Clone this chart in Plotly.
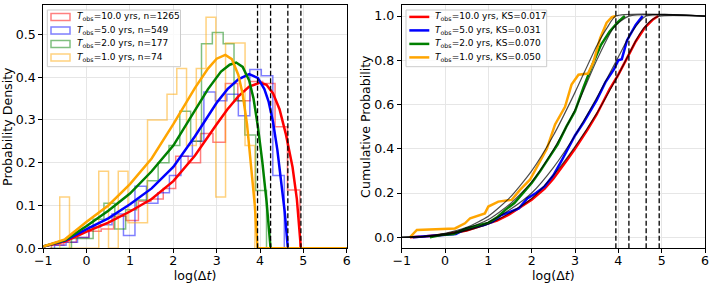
import numpy as np
import plotly.graph_objects as go

# ---------------- data ----------------
T_obs_yrs = [10.0, 5.0, 2.0, 1.0]
n_events = [1265, 549, 177, 74]
ks_values = ["0.017", "0.031", "0.070", "0.050"]
colors = ["red", "blue", "green", "orange"]

# histogram (density) : first edge, bin width, bar heights
hist_start = [-0.81, -0.74, -0.85, -0.62]
hist_binw = [0.2865, 0.265, 0.25, 0.225]
hist_red = [0.008, 0.014, 0.025, 0.040, 0.045, 0.075, 0.065, 0.110, 0.115, 0.140,
            0.215, 0.200, 0.268, 0.248, 0.385, 0.345, 0.390, 0.385, 0.284, 0.136]
hist_blue = [0.007, 0.014, 0.025, 0.050, 0.055, 0.080, 0.030, 0.145, 0.105, 0.130,
             0.170, 0.215, 0.250, 0.365, 0.345, 0.360, 0.310, 0.418, 0.403, 0.170]
hist_green = [0.0, 0.0, 0.023, 0.023, 0.068, 0.105, 0.045, 0.090, 0.113, 0.158,
              0.200, 0.240, 0.320, 0.250, 0.478, 0.504, 0.478, 0.345, 0.265, 0.135]
hist_orange = [0.12, 0.0, 0.0, 0.0, 0.18, 0.0, 0.18, 0.06, 0.06, 0.30,
               0.30, 0.36, 0.42, 0.24, 0.42, 0.54, 0.12, 0.48, 0.48, 0.24]

# fitted probability density curves
pdf_x_red = [-1, -0.5, 0, 0.5, 1, 1.5, 2, 2.5, 3, 3.25, 3.5, 3.75, 4.0, 4.15, 4.3, 4.45, 4.6, 4.75,
             4.85, 4.943, 6]
pdf_y_red = [0.004, 0.016, 0.039, 0.060, 0.086, 0.115, 0.157, 0.217, 0.290, 0.325, 0.355, 0.378, 0.387,
             0.382, 0.362, 0.325, 0.265, 0.190, 0.115, 0.0, 0.0]
pdf_x_blue = [-1, -0.5, 0, 0.5, 1, 1.5, 2, 2.5, 3, 3.25, 3.5, 3.75, 3.95, 4.1, 4.2, 4.3, 4.4, 4.5,
              4.57, 4.642, 6]
pdf_y_blue = [0.004, 0.018, 0.045, 0.070, 0.103, 0.140, 0.190, 0.262, 0.340, 0.372, 0.395, 0.407, 0.398,
              0.372, 0.342, 0.295, 0.230, 0.150, 0.085, 0.0, 0.0]
pdf_x_green = [-1, -0.5, 0, 0.5, 1, 1.5, 2, 2.5, 2.8, 3.1, 3.3, 3.45, 3.6, 3.75, 3.85, 3.95, 4.05,
               4.15, 4.244, 6]
pdf_y_green = [0.004, 0.019, 0.052, 0.088, 0.128, 0.180, 0.240, 0.322, 0.372, 0.413, 0.429, 0.434, 0.424,
               0.392, 0.350, 0.285, 0.205, 0.110, 0.0, 0.0]
pdf_x_orange = [-1, -0.5, 0, 0.5, 1, 1.5, 2, 2.5, 2.8, 3.0, 3.2, 3.35, 3.5, 3.6, 3.7, 3.8, 3.88,
                3.943, 6]
pdf_y_orange = [0.004, 0.021, 0.062, 0.100, 0.150, 0.210, 0.290, 0.375, 0.420, 0.443, 0.452, 0.442,
                0.405, 0.360, 0.290, 0.190, 0.100, 0.0, 0.0]

# model cumulative curves (thin black)
cdf_x_red = [-1, -0.5, 0, 0.5, 1, 1.5, 2, 2.5, 3, 3.5, 4, 4.5, 4.75, 4.943, 6]
cdf_y_red = [0.0, 0.003, 0.010, 0.030, 0.060, 0.110, 0.175, 0.280, 0.410, 0.560, 0.735, 0.922, 0.980, 1.0, 1.0]
cdf_x_blue = [-1, -0.5, 0, 0.5, 1, 1.5, 2, 2.5, 3, 3.5, 4, 4.3, 4.642, 6]
cdf_y_blue = [0.0, 0.003, 0.012, 0.033, 0.068, 0.125, 0.200, 0.315, 0.460, 0.630, 0.815, 0.925, 1.0, 1.0]
cdf_x_green = [-1, -0.5, 0, 0.5, 1, 1.5, 2, 2.5, 3, 3.5, 3.9, 4.244, 6]
cdf_y_green = [0.0, 0.003, 0.015, 0.040, 0.080, 0.150, 0.250, 0.395, 0.575, 0.800, 0.950, 1.0, 1.0]
cdf_x_orange = [-1, -0.5, 0, 0.5, 1, 1.5, 2, 2.5, 3, 3.5, 3.75, 3.943, 6]
cdf_y_orange = [0.0, 0.004, 0.018, 0.045, 0.095, 0.180, 0.300, 0.460, 0.655, 0.865, 0.950, 1.0, 1.0]

# empirical cumulative curves (thick, coloured)
ecdf_x_red = [-0.81, -0.5, 0, 0.5, 1.0, 1.2, 1.5, 1.8, 2.0, 2.3, 2.5, 2.8, 3.0, 3.3, 3.5, 3.8, 4.0, 4.2,
              4.4, 4.6, 4.8, 4.92]
ecdf_y_red = [0.0, 0.003, 0.012, 0.030, 0.063, 0.075, 0.105, 0.145, 0.170, 0.220, 0.265, 0.345, 0.400,
              0.490, 0.555, 0.670, 0.735, 0.810, 0.885, 0.945, 0.985, 1.0]
ecdf_x_blue = [-0.74, 0.0, 0.25, 0.5, 0.9, 1.1, 1.3, 1.5, 1.7, 1.9, 2.1, 2.3, 2.5, 2.7, 3.0, 3.2, 3.5, 3.7,
               3.9, 4.0, 4.08, 4.2, 4.4, 4.56]
ecdf_y_blue = [0.0, 0.010, 0.015, 0.040, 0.055, 0.070, 0.100, 0.115, 0.130, 0.175, 0.200, 0.230, 0.280,
               0.350, 0.460, 0.520, 0.620, 0.700, 0.760, 0.800, 0.805, 0.890, 0.960, 1.0]
ecdf_x_green = [-0.35, -0.1, 0.2, 0.5, 0.8, 1.0, 1.2, 1.4, 1.6, 1.8, 2.0, 2.2, 2.4, 2.6, 2.8, 3.0, 3.2,
                3.4, 3.6, 3.8, 4.0, 4.15]
ecdf_y_green = [0.0, 0.010, 0.015, 0.040, 0.055, 0.065, 0.090, 0.125, 0.155, 0.200, 0.245, 0.300, 0.360,
                0.420, 0.500, 0.570, 0.680, 0.780, 0.870, 0.930, 0.975, 1.0]
ecdf_x_orange = [-0.81, -0.65, 0.23, 0.46, 0.58, 0.92, 1.0, 1.23, 1.54, 1.73, 1.96, 2.12, 2.35, 2.54, 2.77,
                 2.92, 3.08, 3.3, 3.42, 3.58, 3.73, 3.85, 3.94]
ecdf_y_orange = [0.0, 0.033, 0.040, 0.063, 0.086, 0.108, 0.139, 0.161, 0.169, 0.214, 0.260, 0.320, 0.400,
                 0.510, 0.590, 0.690, 0.735, 0.740, 0.790, 0.900, 0.970, 0.995, 1.0]

hists = [hist_red, hist_blue, hist_green, hist_orange]
pdfs = [(pdf_x_red, pdf_y_red), (pdf_x_blue, pdf_y_blue), (pdf_x_green, pdf_y_green), (pdf_x_orange, pdf_y_orange)]
cdfs = [(cdf_x_red, cdf_y_red), (cdf_x_blue, cdf_y_blue), (cdf_x_green, cdf_y_green), (cdf_x_orange, cdf_y_orange)]
ecdfs = [(ecdf_x_red, ecdf_y_red), (ecdf_x_blue, ecdf_y_blue), (ecdf_x_green, ecdf_y_green),
         (ecdf_x_orange, ecdf_y_orange)]

HOURS_PER_YEAR = 365.25 * 24
log_tmax = [np.log10(T * HOURS_PER_YEAR) for T in T_obs_yrs]

FONT = "DejaVu Sans"
W, H = 714, 286


def rgba(name, a):
    base = {"red": (255, 0, 0), "blue": (0, 0, 255), "green": (0, 128, 0), "orange": (255, 165, 0)}[name]
    return f"rgba({base[0]},{base[1]},{base[2]},{a})"


def px2x(p):
    return p / W


def py2y(p):
    return 1 - p / H


fig = go.Figure()

left_labels = [f"<i>T</i><sub>obs</sub>={T_obs_yrs[i]:.1f} yrs, n={n_events[i]}" for i in range(4)]
right_labels = [f"<i>T</i><sub>obs</sub>={T_obs_yrs[i]:.1f} yrs, KS={ks_values[i]}" for i in range(4)]

# ---------------- left panel: histograms + pdf fits ----------------
for i, c in enumerate(colors):
    h = hists[i]
    edges = hist_start[i] + hist_binw[i] * np.arange(len(h) + 1)
    xs = [edges[0]] + list(edges[:-1]) + [edges[-1]]
    ys = [0.0] + list(h) + [0.0]
    fig.add_trace(go.Scatter(x=xs, y=ys, mode="lines", name=left_labels[i],
                             line=dict(color=rgba(c, 0.5), width=1.5, shape="hv"),
                             xaxis="x", yaxis="y", showlegend=False, hoverinfo="skip"))

for i, c in enumerate(colors):
    px_, py_ = pdfs[i]
    fig.add_trace(go.Scatter(x=px_, y=py_, mode="lines", line=dict(color=c, width=2.5),
                             xaxis="x", yaxis="y", showlegend=False, hoverinfo="skip"))

# ---------------- right panel: cumulative ----------------
for i, c in enumerate(colors):
    ex, ey = ecdfs[i]
    fig.add_trace(go.Scatter(x=ex, y=ey, mode="lines", line=dict(color=c, width=2.5), name=right_labels[i],
                             xaxis="x2", yaxis="y2", showlegend=False))
for i, c in enumerate(colors):
    cx, cy = cdfs[i]
    fig.add_trace(go.Scatter(x=cx, y=cy, mode="lines", line=dict(color="rgba(0,0,0,0.7)", width=1.2,
                                                                  shape="spline", smoothing=0.6),
                             xaxis="x2", yaxis="y2", showlegend=False, hoverinfo="skip"))

# dashed vertical lines at the observation windows
shapes = []
for xr in ["x", "x2"]:
    for lt in log_tmax:
        shapes.append(dict(type="line", xref=xr, yref=("y domain" if xr == "x" else "y2 domain"),
                           x0=lt, x1=lt, y0=0, y1=1, line=dict(color="black", width=1.3, dash="5px,2.5px")))

# ---------------- legends (matplotlib style boxes) ----------------
annotations = []
LEG_TOP, LEG_BOT = 10.0, 66.7
ROW0, ROW_STEP = 16.9, 13.5
leg_specs = [  # (box left, box right, key left, key right, text left, labels, key kind)
    (47.3, 180.5, 51.0, 70.0, 75.0, left_labels, "patch"),
    (406.0, 546.7, 409.3, 429.3, 433.3, right_labels, "line"),
]
for (bl, br, kl, kr, tl, labels, kind) in leg_specs:
    shapes.append(dict(type="rect", xref="paper", yref="paper", x0=px2x(bl), x1=px2x(br),
                       y0=py2y(LEG_BOT), y1=py2y(LEG_TOP), fillcolor="rgba(255,255,255,0.8)",
                       line=dict(color="#cccccc", width=1)))
    for i, c in enumerate(colors):
        yc = ROW0 + ROW_STEP * i
        if kind == "patch":
            shapes.append(dict(type="rect", xref="paper", yref="paper", x0=px2x(kl), x1=px2x(kr),
                               y0=py2y(yc + 3.5), y1=py2y(yc - 3.5), fillcolor="rgba(0,0,0,0)",
                               line=dict(color=rgba(c, 0.5), width=1.5)))
        else:
            shapes.append(dict(type="line", xref="paper", yref="paper", x0=px2x(kl), x1=px2x(kr),
                               y0=py2y(yc), y1=py2y(yc), line=dict(color=c, width=2.5)))
        annotations.append(dict(xref="paper", yref="paper", x=px2x(tl), y=py2y(yc), xanchor="left",
                                yanchor="middle", showarrow=False, text=labels[i],
                                font=dict(family=FONT, size=9.0, color="black")))

axis_common = dict(showline=True, linecolor="black", linewidth=1, mirror=True, ticks="outside", ticklen=4,
                   tickcolor="black", showgrid=True, gridcolor="#e6e6e6", gridwidth=1, zeroline=False,
                   tickfont=dict(family=FONT, size=12.6, color="black"), automargin=False)

fig.update_layout(
    width=W, height=H, margin=dict(l=0, r=0, t=0, b=0),
    paper_bgcolor="white", plot_bgcolor="white",
    font=dict(family=FONT, color="black"),
    shapes=shapes, annotations=annotations,
    xaxis=dict(domain=[0.0606, 0.4856], range=[-1, 6], dtick=1, anchor="y", ticklabelstandoff=-3,
               title=dict(text="log(Δ<i>t</i>)", font=dict(size=12.6), standoff=0), **axis_common),
    yaxis=dict(domain=[0.1318, 0.9825], range=[0, 0.5685], dtick=0.1, tickformat=".1f", anchor="x",
               title=dict(text="Probability Density", font=dict(size=12.6), standoff=0), **axis_common),
    xaxis2=dict(domain=[0.5626, 0.9874], range=[-1, 6], dtick=1, anchor="y2", ticklabelstandoff=-3,
                title=dict(text="log(Δ<i>t</i>)", font=dict(size=12.6), standoff=0), **axis_common),
    yaxis2=dict(domain=[0.1318, 0.9825], range=[-0.05, 1.05], dtick=0.2, tickformat=".1f", anchor="x2",
                title=dict(text="Cumulative Probability", font=dict(size=12.6), standoff=0), **axis_common),
    showlegend=False,
)

fig.write_html("out.html", config={"displayModeBar": False},
               post_script="document.body.style.margin='0';document.body.style.overflow='hidden';")
